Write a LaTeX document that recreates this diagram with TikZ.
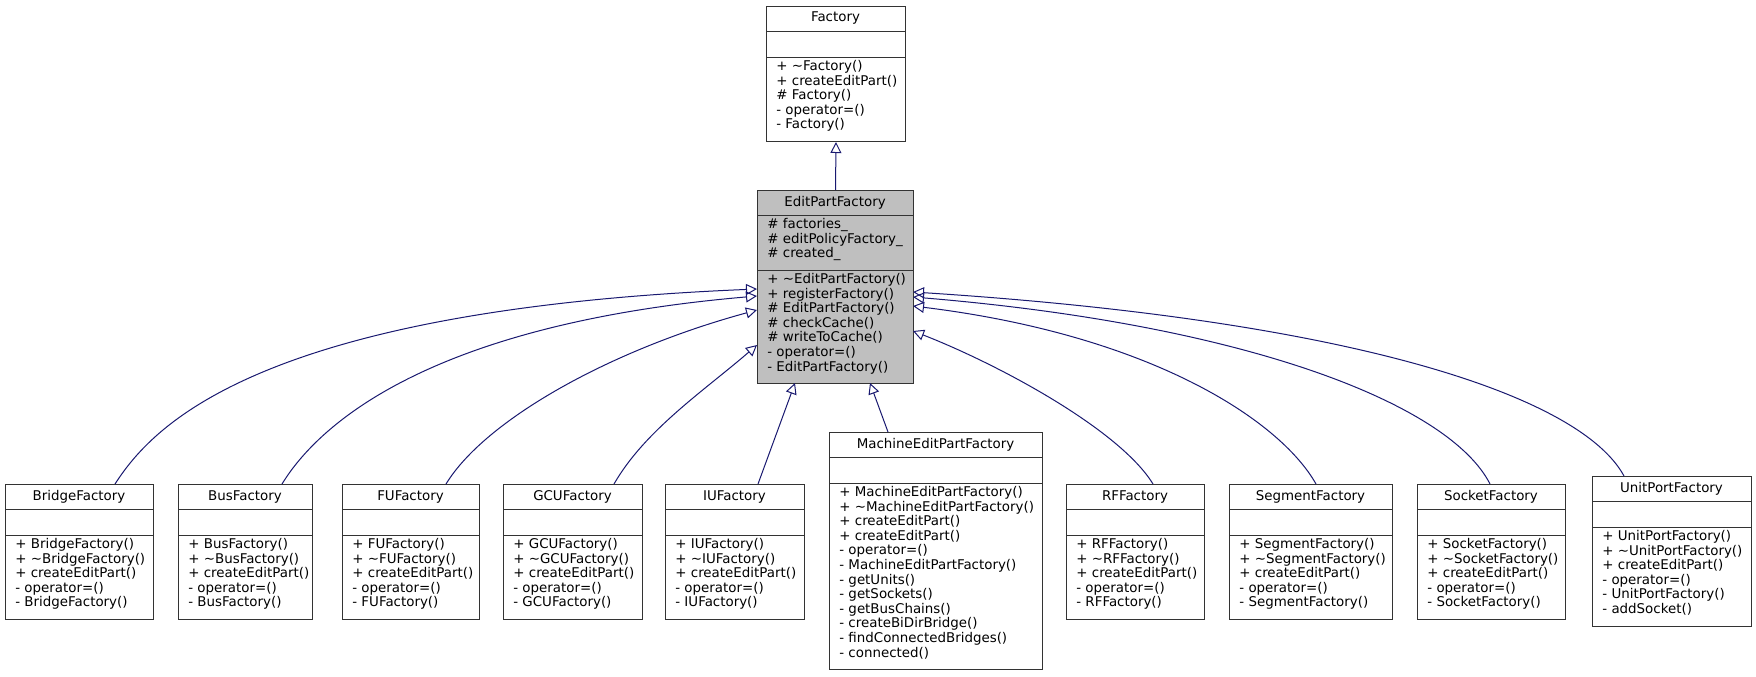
\documentclass[tikz,border=0pt]{standalone}
\usepackage{fontspec}
\setmainfont{DejaVu Sans}
\usetikzlibrary{arrows.meta}

\definecolor{edgeblue}{HTML}{191970}
\definecolor{basegrey}{HTML}{BFBFBF}

\tikzset{
	cls/.style={rectangle, draw=black!80, line width=0.5pt, inner sep=0pt},
	txt/.style={align=left, inner sep=0pt, font=\fontsize{6.7}{7.3}\selectfont},
	inherit/.style={draw=edgeblue, line width=0.5pt, -{Triangle[open, length=5.5pt, width=5.5pt]}}
}

% name, x, y, width, title, attribute height, attributes, method lines, methods
\newcommand\umlclass[9]{%
	\pgfmathsetmacro\clsh{25+#6+#8*14.6+11}
	\node[cls, minimum width=#4*0.5pt, minimum height=\clsh*0.5pt, anchor=north west] (#1) at (#2,#3) {};
	\node[txt] at (#2+#4/2,#3+12.5) {#5};
	\draw[black!80, line width=0.4pt] (#2,#3+25) -- ++(#4,0);
	\draw[black!80, line width=0.4pt] (#2,#3+25+#6) -- ++(#4,0);
	\node[txt, anchor=north west] at (#2+10,#3+28) {#7};
	\node[txt, anchor=north west] at (#2+10,#3+28+#6) {#9};
}

\begin{document}
\begin{tikzpicture}[x=0.5pt, y=-0.5pt]
	\useasboundingbox[fill=white] (0,0) rectangle (1756,676);

	\umlclass{factory}{766}{6}{139}{Factory}{26}{}{5}{+ \textasciitilde Factory()\\+ createEditPart()\\\# Factory()\\- operator=()\\- Factory()}

	\fill[basegrey] (757,190) rectangle ++(156,193);
	\umlclass{epf}{757}{190}{156}{EditPartFactory}{55}{\# factories\_\\\# editPolicyFactory\_\\\# created\_}{7}{+ \textasciitilde EditPartFactory()\\+ registerFactory()\\\# EditPartFactory()\\\# checkCache()\\\# writeToCache()\\- operator=()\\- EditPartFactory()}

	\umlclass{bridge}{5}{484}{148}{BridgeFactory}{26}{}{5}{+ BridgeFactory()\\+ \textasciitilde BridgeFactory()\\+ createEditPart()\\- operator=()\\- BridgeFactory()}
	\umlclass{bus}{178}{484}{134}{BusFactory}{26}{}{5}{+ BusFactory()\\+ \textasciitilde BusFactory()\\+ createEditPart()\\- operator=()\\- BusFactory()}
	\umlclass{fu}{342}{484}{137}{FUFactory}{26}{}{5}{+ FUFactory()\\+ \textasciitilde FUFactory()\\+ createEditPart()\\- operator=()\\- FUFactory()}
	\umlclass{gcu}{503}{484}{139}{GCUFactory}{26}{}{5}{+ GCUFactory()\\+ \textasciitilde GCUFactory()\\+ createEditPart()\\- operator=()\\- GCUFactory()}
	\umlclass{iu}{665}{484}{139}{IUFactory}{26}{}{5}{+ IUFactory()\\+ \textasciitilde IUFactory()\\+ createEditPart()\\- operator=()\\- IUFactory()}
	\umlclass{machine}{829}{432}{213}{MachineEditPartFactory}{26}{}{12}{+ MachineEditPartFactory()\\+ \textasciitilde MachineEditPartFactory()\\+ createEditPart()\\+ createEditPart()\\- operator=()\\- MachineEditPartFactory()\\- getUnits()\\- getSockets()\\- getBusChains()\\- createBiDirBridge()\\- findConnectedBridges()\\- connected()}
	\umlclass{rf}{1066}{484}{138}{RFFactory}{26}{}{5}{+ RFFactory()\\+ \textasciitilde RFFactory()\\+ createEditPart()\\- operator=()\\- RFFactory()}
	\umlclass{segment}{1229}{484}{163}{SegmentFactory}{26}{}{5}{+ SegmentFactory()\\+ \textasciitilde SegmentFactory()\\+ createEditPart()\\- operator=()\\- SegmentFactory()}
	\umlclass{socket}{1417}{484}{148}{SocketFactory}{26}{}{5}{+ SocketFactory()\\+ \textasciitilde SocketFactory()\\+ createEditPart()\\- operator=()\\- SocketFactory()}
	\umlclass{unitport}{1592}{476}{159}{UnitPortFactory}{26}{}{6}{+ UnitPortFactory()\\+ \textasciitilde UnitPortFactory()\\+ createEditPart()\\- operator=()\\- UnitPortFactory()\\- addSocket()}

	% attachment points
	\coordinate (inbridge) at (757,289);
	\coordinate (inbus) at (757,296);
	\coordinate (infu) at (757,310);
	\coordinate (ingcu) at (757,345);
	\coordinate (iniu) at (795,383);
	\coordinate (inmachine) at (870,383);
	\coordinate (inrf) at (913,331);
	\coordinate (insegment) at (913,306);
	\coordinate (insocket) at (913,297);
	\coordinate (inunitport) at (913,292);
	\coordinate (outbridge) at (115,484);
	\coordinate (outbus) at (282,484);
	\coordinate (outfu) at (446,484);
	\coordinate (outgcu) at (614,484);
	\coordinate (outiu) at (758,484);
	\coordinate (outmachine) at (888,432);
	\coordinate (outrf) at (1153,484);
	\coordinate (outsegment) at (1316,484);
	\coordinate (outsocket) at (1490,484);
	\coordinate (outunitport) at (1624,476);

	\draw[inherit] (epf.north) -- (factory.south);
	\draw[inherit] (outbridge) .. controls (150,430) and (250,310) .. (inbridge);
	\draw[inherit] (outbus) .. controls (315,430) and (420,325) .. (inbus);
	\draw[inherit] (outfu) .. controls (485,420) and (610,350) .. (infu);
	\draw[inherit] (outgcu) .. controls (645,430) and (705,390) .. (ingcu);
	\draw[inherit] (outiu) -- (iniu);
	\draw[inherit] (outmachine) -- (inmachine);
	\draw[inherit] (outrf) .. controls (1120,430) and (1000,365) .. (inrf);
	\draw[inherit] (outsegment) .. controls (1280,420) and (1150,335) .. (insegment);
	\draw[inherit] (outsocket) .. controls (1450,405) and (1250,325) .. (insocket);
	\draw[inherit] (outunitport) .. controls (1580,395) and (1350,320) .. (inunitport);
\end{tikzpicture}
\end{document}
